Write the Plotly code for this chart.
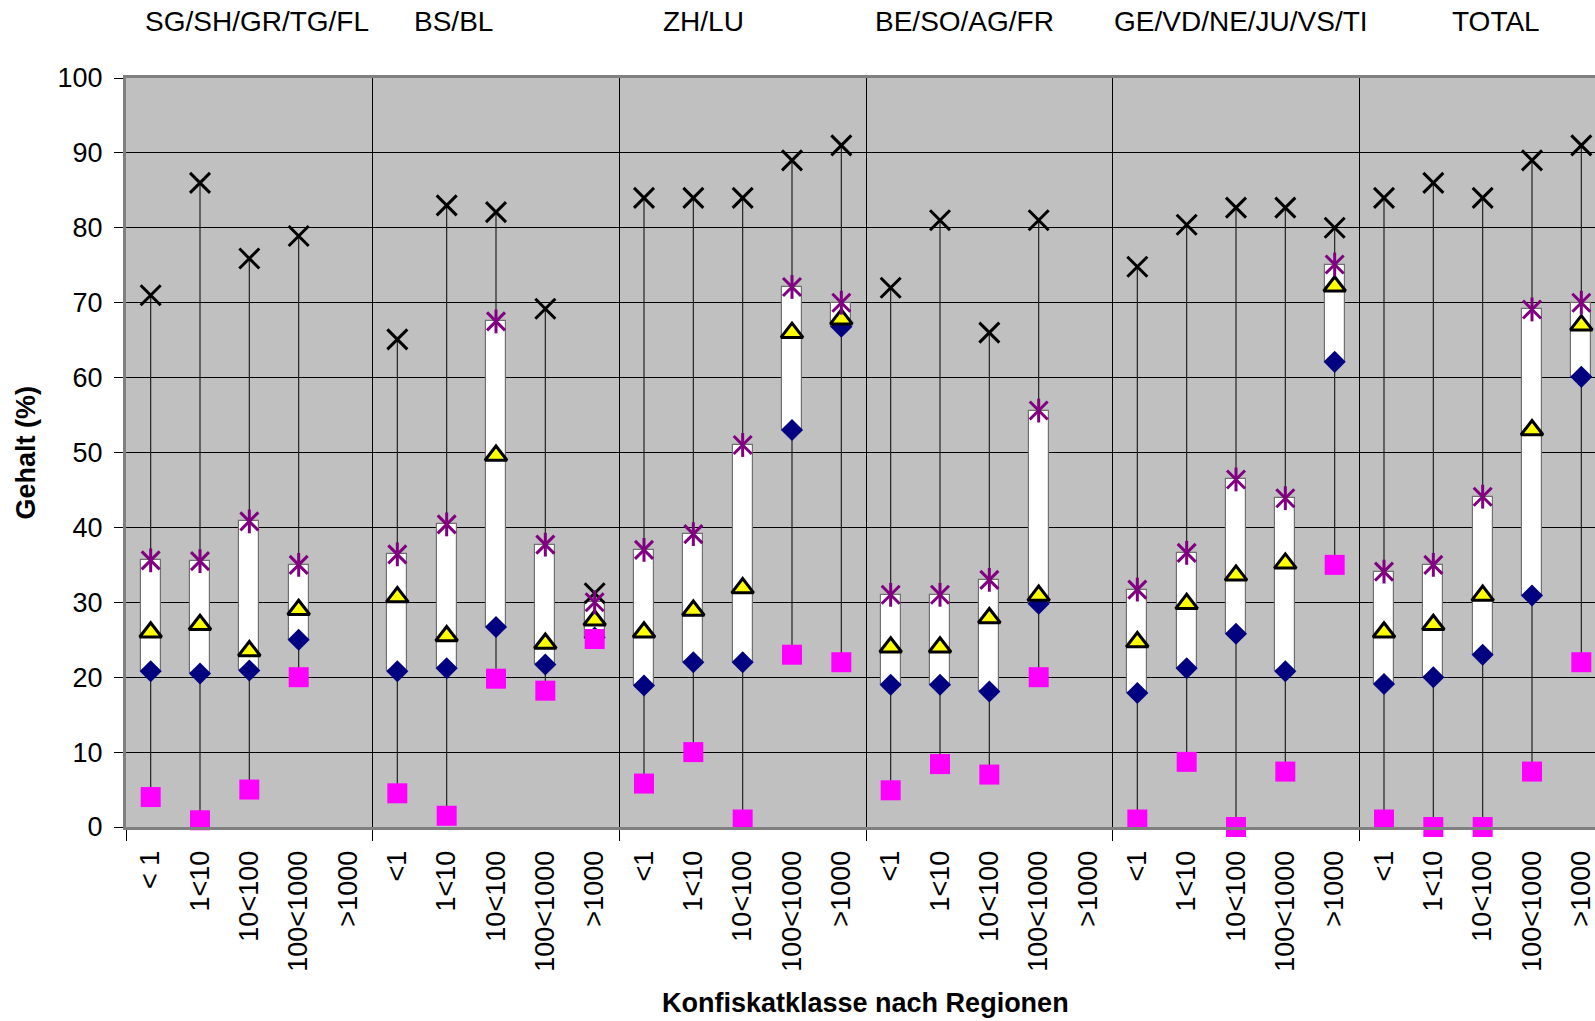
import plotly.graph_objects as go

# ---- data ----
regions = ["SG/SH/GR/TG/FL", "BS/BL", "ZH/LU", "BE/SO/AG/FR", "GE/VD/NE/JU/VS/TI", "TOTAL"]
classes_first = ["< 1", "1<10", "10<100", "100<1000", ">1000"]
classes = ["<1", "1<10", "10<100", "100<1000", ">1000"]

max_vals = [71.0, 86.0, 75.9, 78.9, None,
            65.1, 83.0, 82.1, 69.2, 31.2,
            84.0, 84.0, 84.0, 89.0, 91.0,
            72.0, 81.0, 66.0, 81.0, None,
            74.8, 80.4, 82.7, 82.7, 80.0,
            84.0, 86.0, 84.0, 89.0, 91.0]
q3_vals = [35.6, 35.5, 40.8, 35.0, None,
           36.4, 40.4, 67.5, 37.7, 30.0,
           37.0, 39.1, 51.0, 72.1, 70.0,
           31.0, 31.0, 33.0, 55.6, None,
           31.7, 36.6, 46.4, 43.9, 75.1,
           34.1, 35.0, 44.1, 69.1, 70.0]
median_vals = [26.0, 27.0, 23.5, 29.0, None,
               30.7, 25.5, 49.6, 24.5, 27.6,
               26.0, 28.9, 31.9, 66.0, 67.8,
               24.0, 24.0, 27.9, 30.9, None,
               24.7, 29.8, 33.6, 35.2, 72.2,
               26.0, 27.0, 30.9, 53.0, 67.0]
q1_vals = [20.8, 20.5, 20.9, 25.0, None,
           20.8, 21.2, 26.7, 21.7, 25.3,
           18.9, 22.0, 22.0, 53.0, 66.8,
           19.0, 19.0, 18.1, 29.8, None,
           17.9, 21.2, 25.8, 20.8, 62.1,
           19.1, 20.0, 23.0, 30.9, 60.1]
min_vals = [4.0, 0.9, 5.0, 20.0, None,
            4.5, 1.5, 19.8, 18.2, 25.1,
            5.8, 10.0, 1.0, 23.0, 22.0,
            4.9, 8.4, 7.0, 20.0, None,
            1.0, 8.7, 0.0, 7.4, 35.0,
            1.0, 0.0, 0.0, 7.4, 22.0]

tick_labels = classes_first + classes * (len(regions) - 1)
xs = list(range(len(tick_labels)))

FONT = "Liberation Sans, Arial, sans-serif"

# whisker segments (min->Q1 and Q3->max), built from the data
wx, wy = [], []
for i in xs:
    if max_vals[i] is None:
        continue
    wx += [i, i, None, i, i, None]
    wy += [min_vals[i], q1_vals[i], None, q3_vals[i], max_vals[i], None]

bx = [i for i in xs if q1_vals[i] is not None]
bbase = [q1_vals[i] for i in bx]
bh = [q3_vals[i] - q1_vals[i] for i in bx]

fig = go.Figure()
fig.add_trace(go.Scatter(x=wx, y=wy, mode="lines",
                         line=dict(color="#222222", width=1.2),
                         hoverinfo="skip", showlegend=False))
fig.add_trace(go.Bar(x=bx, y=bh, base=bbase, width=0.405,
                     marker=dict(color="white", line=dict(color="#707070", width=1.2)),
                     showlegend=False))
fig.add_trace(go.Scatter(x=xs, y=max_vals, mode="markers",
                         marker=dict(symbol="x-thin", size=20,
                                     line=dict(color="black", width=3)),
                         showlegend=False))
fig.add_trace(go.Scatter(x=xs, y=q1_vals, mode="markers",
                         marker=dict(symbol="diamond", size=17, color="#000080",
                                     line=dict(width=0)),
                         showlegend=False))
fig.add_trace(go.Scatter(x=xs, y=min_vals, mode="markers", cliponaxis=False,
                         marker=dict(symbol="square", size=20, color="#FF00FF",
                                     line=dict(width=0)),
                         showlegend=False))
fig.add_trace(go.Scatter(x=xs, y=median_vals, mode="markers",
                         marker=dict(symbol="triangle-up", size=19, color="#FFFF00",
                                     line=dict(color="black", width=3)),
                         showlegend=False))
fig.add_trace(go.Scatter(x=xs, y=q3_vals, mode="markers",
                         marker=dict(symbol="x-thin", size=18,
                                     line=dict(color="#800080", width=3)),
                         showlegend=False))
fig.add_trace(go.Scatter(x=xs, y=q3_vals, mode="markers",
                         marker=dict(symbol="line-ns", size=17,
                                     line=dict(color="#800080", width=3)),
                         showlegend=False))

n_per = len(classes)
x_right = len(xs) - 0.5 - 11 / 49.33

fig.update_xaxes(
    range=[-0.5, x_right], tickmode="array", tickvals=xs, ticktext=tick_labels,
    tickangle=-90, tickfont=dict(family=FONT, size=27, color="black"),
    ticks="", showgrid=False, zeroline=False, ticklabelstandoff=10,
    ticklabeloverflow="allow",
    showline=True, linecolor="#808080", linewidth=3, mirror=True,
    minor=dict(tickmode="linear", tick0=-0.5, dtick=n_per, ticks="outside",
               ticklen=11, tickcolor="black", tickwidth=1,
               showgrid=True, gridcolor="black", gridwidth=1),
)
fig.update_yaxes(
    range=[0, 100], tickmode="linear", tick0=0, dtick=10,
    tickfont=dict(family=FONT, size=27, color="black"),
    ticks="outside", ticklen=9, tickcolor="black", tickwidth=1,
    showgrid=True, gridcolor="black", gridwidth=1, zeroline=False,
    showline=True, linecolor="#808080", linewidth=3, ticklabelstandoff=6,
)

region_x = [2.16, 6.13, 11.2, 16.49, 22.1, 27.27]
annotations = []
for name, rx in zip(regions, region_x):
    annotations.append(dict(text=name, x=rx, xref="x", y=1, yref="paper",
                            yshift=57, yanchor="middle", xanchor="center",
                            showarrow=False,
                            font=dict(family=FONT, size=28, color="black")))
annotations.append(dict(text="<b>Gehalt (%)</b>", x=0, xref="paper", xshift=-101,
                        y=0.5, yref="paper", textangle=-90, showarrow=False,
                        xanchor="center", yanchor="middle",
                        font=dict(family=FONT, size=27, color="black")))
annotations.append(dict(text="<b>Konfiskatklasse nach Regionen</b>", x=0.5037, xref="paper",
                        y=0, yref="paper", yshift=-176, yanchor="middle",
                        xanchor="center", showarrow=False,
                        font=dict(family=FONT, size=27, color="black")))

fig.update_layout(
    width=1595, height=1021,
    margin=dict(l=126, r=0, t=78, b=194),
    paper_bgcolor="white", plot_bgcolor="#C0C0C0",
    showlegend=False, bargap=0, annotations=annotations,
    font=dict(family=FONT),
)

fig.write_html("out.html", config={"displayModeBar": False})

# remove the default page margin so the figure fills the window exactly
with open("out.html", "r", encoding="utf-8") as f:
    html = f.read()
style = "<style>html,body{margin:0;padding:0;overflow:hidden;}</style>"
if "<head>" in html:
    html = html.replace("<head>", "<head>" + style, 1)
else:
    html = style + html
with open("out.html", "w", encoding="utf-8") as f:
    f.write(html)
